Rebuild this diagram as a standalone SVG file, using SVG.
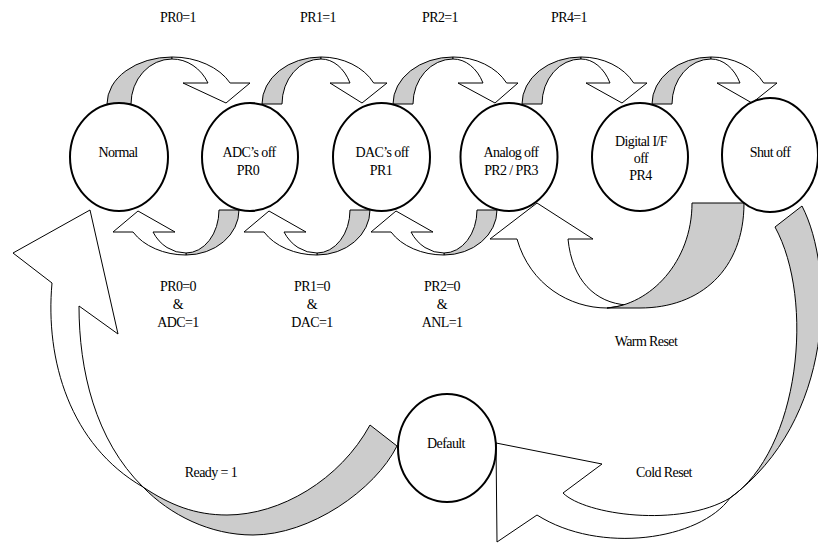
<svg xmlns="http://www.w3.org/2000/svg" width="818" height="543" viewBox="0 0 818 543">
<style>
.w{fill:#fff;stroke:#000;stroke-width:1;stroke-linejoin:miter}
.g{fill:#cccccc;stroke:#000;stroke-width:1;stroke-linejoin:miter}
.n{fill:#fff;stroke:#000;stroke-width:2}
.t{font-family:"Liberation Serif","Times New Roman",serif;font-size:14px;letter-spacing:-0.6px;text-anchor:middle;fill:#000}
</style>
<rect width="818" height="543" fill="#fff"/>
<g id="connectors">
  <!-- top arrows -->
  <path class="g" d="M107,104 A65,47 0 0 1 172,57 L172,59 A41,45 0 0 0 131,104 Z"/>
  <path class="w" d="M172,57 A65,47 0 0 1 230.1,83 L250,83 L226,103 L183,83 L208,83 A40.7,45 0 0 0 172,59 Z"/>
  <path class="g" d="M262,104 A59,47 0 0 1 321,57 L321,59 A39,45 0 0 0 282,104 Z"/>
  <path class="w" d="M321,57 A59,47 0 0 1 373.7,83 L387,83 L362,103 L330,83 L350,83 A32.8,45 0 0 0 321,59 Z"/>
  <path class="g" d="M393,104 A60,47 0 0 1 453,57 L453,59 A40,45 0 0 0 413,104 Z"/>
  <path class="w" d="M453,57 A60,47 0 0 1 506.6,83 L518,83 L495,103 L458,83 L483,83 A33.9,45 0 0 0 453,59 Z"/>
  <path class="g" d="M522,104 A59,47 0 0 1 581,57 L581,59 A39,45 0 0 0 542,104 Z"/>
  <path class="w" d="M581,57 A59,47 0 0 1 633.7,83 L647,83 L622,103 L586,83 L610,83 A32.8,45 0 0 0 581,59 Z"/>
  <path class="g" d="M652,104 A59,47 0 0 1 711,57 L711,59 A39,45 0 0 0 672,104 Z"/>
  <path class="w" d="M711,57 A59,47 0 0 1 763.7,83 L777,83 L752,103 L717,83 L740,83 A32.8,45 0 0 0 711,59 Z"/>
  <!-- bottom arrows -->
  <path class="g" d="M239,210 A53,45 0 0 1 186,255 L186,253 A33,43 0 0 0 219,210 Z"/>
  <path class="w" d="M186,255 A61,45 0 0 1 133,232 L113,232 L138,211 L175,232 L153,232 A37.8,43 0 0 0 186,253 Z"/>
  <path class="g" d="M370,210 A53,45 0 0 1 317,255 L317,253 A33,43 0 0 0 350,210 Z"/>
  <path class="w" d="M317,255 A61,45 0 0 1 264,232 L244,232 L269,211 L306,232 L284,232 A37.8,43 0 0 0 317,253 Z"/>
  <path class="g" d="M497,210 A53,45 0 0 1 444,255 L444,253 A33,43 0 0 0 477,210 Z"/>
  <path class="w" d="M444,255 A61,45 0 0 1 391,232 L371,232 L396,211 L433,232 L411,232 A37.8,43 0 0 0 444,253 Z"/>
  <!-- warm reset -->
  <path class="w" d="M607,308 C570,308 530,285 517,239 L490,239 L537,203 L593,239 L568,239 C572,280 595,303 627,305 Z"/>
  <path class="g" d="M744,203 C744,270 700,308 640,308 L607,308 C650,305 692,262 692,203 Z"/>
  <!-- ready -->
  <path class="w" d="M143,487 C70,445 45,360 52,283 L13,253 L90,210 L118,334 L79,306 C79,370 95,440 143,487 Z"/>
  <path class="g" d="M370,425 L397,446 C375,490 310,535 253,535 C210,535 170,515 143,487 C170,505 195,515 227,515 C280,515 340,480 370,425 Z"/>
  <!-- cold reset -->
  <path class="g" d="M775,227 L802,206 C835,270 835,420 730,498 C800,450 815,300 775,227 Z"/>
  <path class="w" d="M730,498 C700,540 600,555 537,515 L497,542 L496,443 L602,464 L563,493 C585,515 680,528 730,498 Z"/>
</g>
<g id="node-normal"><ellipse class="n" cx="119" cy="157" rx="49" ry="54"/><text class="t" x="118" y="157">Normal</text></g>
<g id="node-adc"><ellipse class="n" cx="250" cy="157" rx="48" ry="54"/><text class="t" x="249" y="157">ADC’s off</text><text class="t" x="248" y="174.5">PR0</text></g>
<g id="node-dac"><ellipse class="n" cx="381.5" cy="157" rx="48.5" ry="54"/><text class="t" x="382" y="157">DAC’s off</text><text class="t" x="381" y="174.5">PR1</text></g>
<g id="node-analog"><ellipse class="n" cx="509" cy="157" rx="48.5" ry="54"/><text class="t" x="511" y="157">Analog off</text><text class="t" x="511" y="174.5">PR2 / PR3</text></g>
<g id="node-digital"><ellipse class="n" cx="640" cy="157" rx="48" ry="54"/><text class="t" x="641" y="146">Digital I/F</text><text class="t" x="641" y="163">off</text><text class="t" x="640.5" y="180">PR4</text></g>
<g id="node-shutoff"><ellipse class="n" cx="770" cy="155" rx="48" ry="57"/><text class="t" x="770" y="157">Shut off</text></g>
<g id="node-default"><ellipse class="n" cx="447" cy="448" rx="49" ry="54"/><text class="t" x="446" y="448">Default</text></g>
<g id="labels">
  <text class="t" x="178" y="22">PR0=1</text>
  <text class="t" x="318" y="22">PR1=1</text>
  <text class="t" x="440" y="22">PR2=1</text>
  <text class="t" x="569" y="22">PR4=1</text>
  <text class="t" x="178" y="290.5">PR0=0</text><text class="t" x="178" y="308.5">&amp;</text><text class="t" x="178" y="327">ADC=1</text>
  <text class="t" x="312" y="290.5">PR1=0</text><text class="t" x="312" y="308.5">&amp;</text><text class="t" x="312" y="327">DAC=1</text>
  <text class="t" x="442" y="290.5">PR2=0</text><text class="t" x="442" y="308.5">&amp;</text><text class="t" x="442" y="327">ANL=1</text>
  <text class="t" x="646" y="346">Warm Reset</text>
  <text class="t" x="664" y="477">Cold Reset</text>
  <text class="t" x="211" y="477">Ready = 1</text>
</g>
</svg>
